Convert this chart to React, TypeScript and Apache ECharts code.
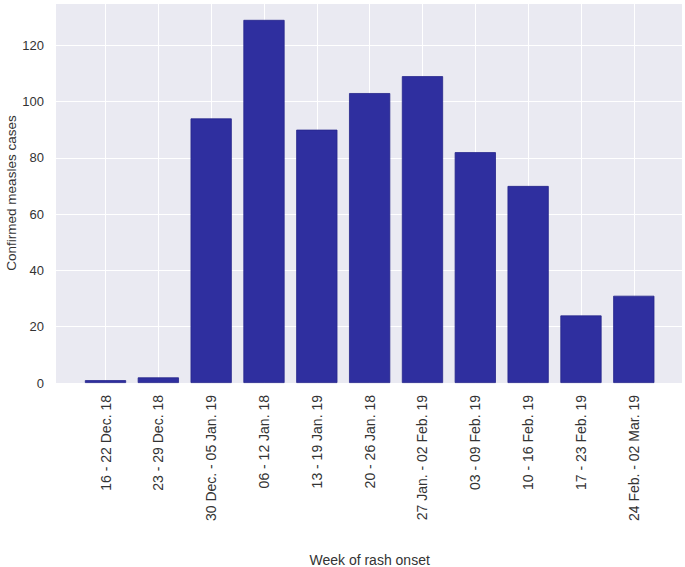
import React, { useEffect, useRef } from "react";
import * as echarts from "echarts";

const categories: string[] = [
  "16 - 22 Dec. 18",
  "23 - 29 Dec. 18",
  "30 Dec. - 05 Jan. 19",
  "06 - 12 Jan. 18",
  "13 - 19 Jan. 19",
  "20 - 26 Jan. 18",
  "27 Jan. - 02 Feb. 19",
  "03 - 09 Feb. 19",
  "10 - 16 Feb. 19",
  "17 - 23 Feb. 19",
  "24 Feb. - 02 Mar. 19",
];

const cases: number[] = [1, 2, 94, 129, 90, 103, 109, 82, 70, 24, 31];

const yTicks: number[] = [0, 20, 40, 60, 80, 100, 120];

const xTitle = "Week of rash onset";
const yTitle = "Confirmed measles cases";

const FONT = "'Liberation Sans', Arial, sans-serif";
const TEXT = "#333333";

export default function App() {
  const ref = useRef<HTMLDivElement>(null);

  useEffect(() => {
    if (!ref.current) return;
    const chart = echarts.init(ref.current, undefined, { renderer: "svg" });
    const yMin = 0;
    const yMax = 135;
    chart.setOption({
      animation: false,
      backgroundColor: "#ffffff",
      grid: [
        {
          left: 56,
          right: 3,
          top: 3,
          bottom: 184,
          show: true,
          backgroundColor: "#EAEAF2",
          borderWidth: 0,
          outerBoundsMode: "none",
          containLabel: false,
        },
        {
          left: 105.5,
          right: 51.2,
          top: 3,
          bottom: 184,
          outerBoundsMode: "none",
          containLabel: false,
        },
      ],
      xAxis: [
        {
          gridIndex: 0,
          type: "value",
          min: 0,
          max: 1,
          show: false,
        },
        {
          gridIndex: 1,
          type: "category",
          data: categories,
          boundaryGap: false,
          axisLine: { show: false },
          axisTick: { show: false },
          splitLine: { show: true, lineStyle: { color: "#ffffff", width: 1 } },
          axisLabel: {
            rotate: 90,
            margin: 12,
            interval: 0,
            color: TEXT,
            fontSize: 14,
            fontFamily: FONT,
          },
          name: xTitle,
          nameLocation: "middle",
          nameGap: 170,
          nameMoveOverlap: false,
          nameTextStyle: { color: TEXT, fontSize: 14, fontFamily: FONT },
        },
      ],
      yAxis: [
        {
          gridIndex: 0,
          type: "value",
          min: yMin,
          max: yMax,
          interval: 20,
          axisLine: { show: false },
          axisTick: { show: false },
          splitLine: { show: true, lineStyle: { color: "#ffffff", width: 1 } },
          axisLabel: {
            margin: 12,
            color: TEXT,
            fontSize: 13,
            fontFamily: FONT,
            showMaxLabel: false,
            formatter: (v: number) => (yTicks.includes(v) ? String(v) : ""),
          },
          name: yTitle,
          nameLocation: "middle",
          nameGap: 38,
          nameMoveOverlap: false,
          nameTextStyle: { color: TEXT, fontSize: 13.5, fontFamily: FONT },
        },
        {
          gridIndex: 1,
          type: "value",
          min: yMin,
          max: yMax,
          show: false,
        },
      ],
      series: [
        {
          type: "bar",
          xAxisIndex: 1,
          yAxisIndex: 1,
          data: cases,
          barWidth: "78%",
          clip: false,
          itemStyle: {
            color: "#2f2f9f",
            borderColor: "#24248a",
            borderWidth: 0.8,
          },
        },
      ],
    });
    return () => chart.dispose();
  }, []);

  return (
    <div
      ref={ref}
      style={{ position: "fixed", left: 0, top: 0, width: 685, height: 567 }}
    />
  );
}
